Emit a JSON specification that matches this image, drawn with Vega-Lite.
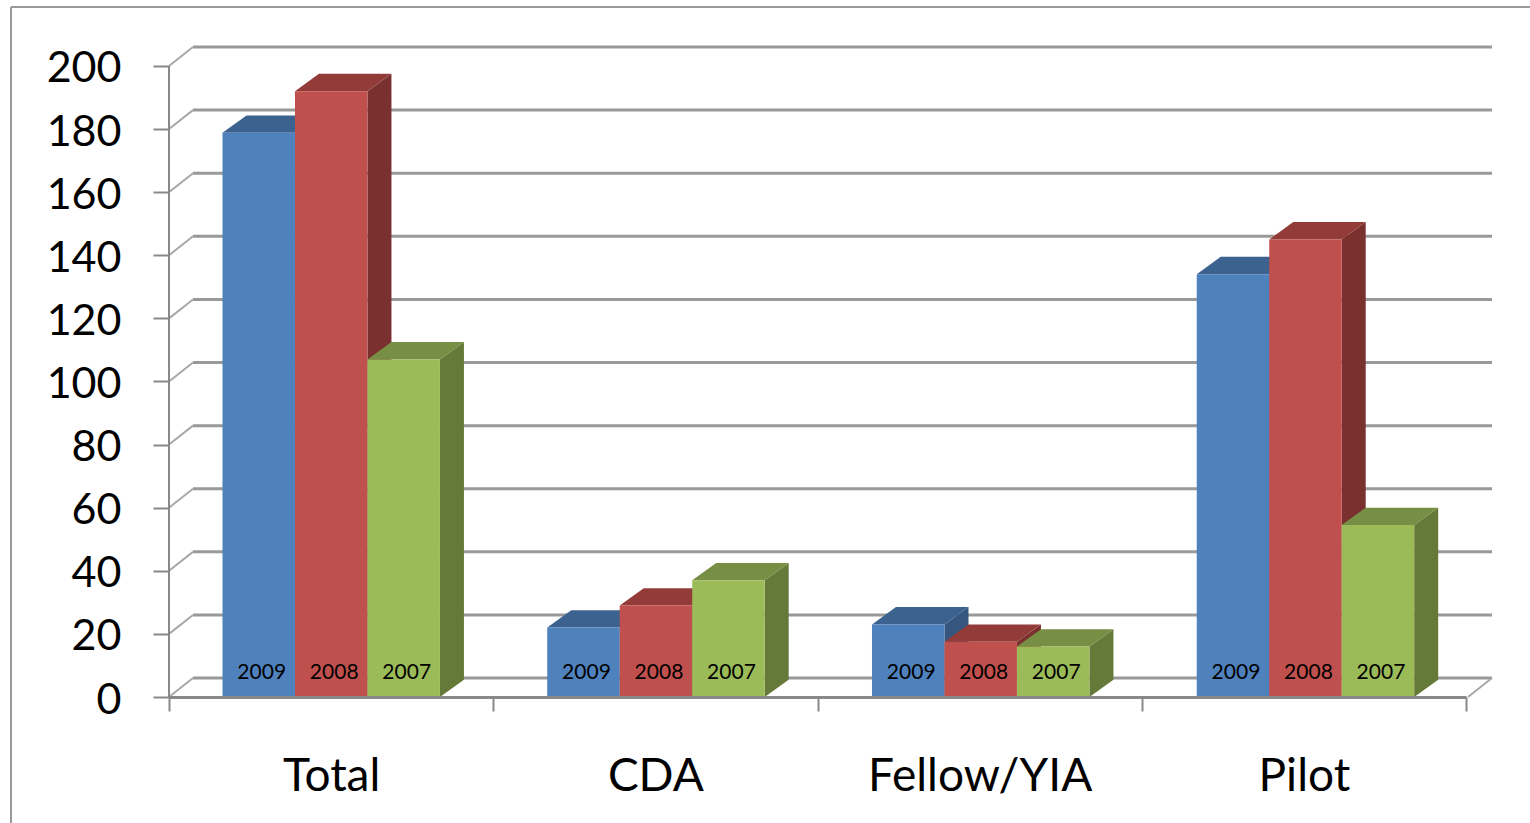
{
"$schema":"https://vega.github.io/schema/vega-lite/v6.json",
"width":1323,"height":650,
"autosize":{"type":"none"},
"padding":{"left":169,"top":47,"right":38,"bottom":126},
"background":"white",
"datasets":{
"bars":[
{"category":"Total","year":2009,"count":178.8},
{"category":"Total","year":2008,"count":192},
{"category":"Total","year":2007,"count":107},
{"category":"CDA","year":2009,"count":22},
{"category":"CDA","year":2008,"count":29},
{"category":"CDA","year":2007,"count":37},
{"category":"Fellow/YIA","year":2009,"count":23},
{"category":"Fellow/YIA","year":2008,"count":17.5},
{"category":"Fellow/YIA","year":2007,"count":16},
{"category":"Pilot","year":2009,"count":134},
{"category":"Pilot","year":2008,"count":145},
{"category":"Pilot","year":2007,"count":54.5}
],
"ticks":[{"tick":0},{"tick":20},{"tick":40},{"tick":60},{"tick":80},{"tick":100},{"tick":120},{"tick":140},{"tick":160},{"tick":180},{"tick":200}]
},
"data":{"name":"bars"},
"transform":[
{"calculate":"indexof(['Total','CDA','Fellow/YIA','Pilot'],datum.category)+0.1647+indexof([2009,2008,2007],datum.year)*0.2232","as":"left"},
{"calculate":"datum.left+0.2232","as":"right"},
{"calculate":"datum.category+datum.year","as":"id"}
],
"layer":[
{"data":{"values":[{"part":"frame"}]},"transform":[],"mark":{"type":"rule","stroke":"#9a9a9a","strokeWidth":2},
 "encoding":{"x":{"datum":-0.4865,"type":"quantitative","scale":{"domain":[0,4.0739]},"axis":null},
 "y":{"datum":218.7,"type":"quantitative","scale":{"domain":[0,206],"nice":false},
  "axis":{"title":null,"values":[0,20,40,60,80,100,120,140,160,180,200],"grid":false,"domain":false,"tickColor":"#888888","tickSize":16,"tickWidth":2,"labelFont":"Lato","labelFontSize":43,"labelColor":"black","labelPadding":32,"labelOffset":3,"labelOverlap":false,"labelBound":false,"labelFlush":false,"labelLimit":0}},
 "y2":{"datum":-40}}},
{"data":{"values":[{"part":"frame"}]},"transform":[],"mark":{"type":"rule","stroke":"#9a9a9a","strokeWidth":2},
 "encoding":{"x":{"datum":-0.4865,"type":"quantitative","scale":{"domain":[0,4.0739]},"axis":null},"x2":{"datum":4.2},"y":{"datum":218.7,"type":"quantitative","scale":{"domain":[0,206],"nice":false},"axis":null}}},
{"data":{"name":"ticks"},"transform":[{"calculate":"datum.tick+6","as":"back"},{"calculate":"0.0739","as":"wallX"},{"calculate":"4.0739","as":"wallEnd"}],
 "mark":{"type":"rule","stroke":"#999999","strokeWidth":3},
 "encoding":{"x":{"field":"wallX","type":"quantitative","scale":{"domain":[0,4.0739]},"axis":null},"x2":{"field":"wallEnd"},"y":{"field":"back","type":"quantitative","scale":{"domain":[0,206],"nice":false},"axis":null}}},
{"data":{"name":"ticks"},"transform":[{"calculate":"datum.tick+6","as":"back"},{"calculate":"0","as":"wallX"},{"calculate":"0.0739","as":"wallEnd"}],
 "mark":{"type":"rule","stroke":"#a8a8a8","strokeWidth":2},
 "encoding":{"x":{"field":"wallX","type":"quantitative","scale":{"domain":[0,4.0739]},"axis":null},"x2":{"field":"wallEnd"},
 "y":{"field":"tick","type":"quantitative","scale":{"domain":[0,206],"nice":false},"axis":null},
 "y2":{"field":"back"}}},
{"data":{"values":[{"from":4,"to":4.0739,"low":0,"high":6}]},"transform":[],"mark":{"type":"rule","stroke":"#a8a8a8","strokeWidth":2},
 "encoding":{"x":{"field":"from","type":"quantitative","scale":{"domain":[0,4.0739]},"axis":null},"x2":{"field":"to"},"y":{"field":"low","type":"quantitative","scale":{"domain":[0,206],"nice":false},"axis":null},"y2":{"field":"high"}}},
{"data":{"values":[{"from":0,"low":0,"high":200}]},"transform":[],"mark":{"type":"rule","stroke":"#888888","strokeWidth":2},
 "encoding":{"x":{"field":"from","type":"quantitative","scale":{"domain":[0,4.0739]},"axis":null},"y":{"field":"low","type":"quantitative","scale":{"domain":[0,206],"nice":false},"axis":null},"y2":{"field":"high"}}},
{"transform":[
 {"calculate":"datum.right","as":"near"},{"calculate":"datum.right+0.0739","as":"far"},
 {"fold":["near","far"],"as":["face","sx"]},
 {"calculate":"datum.face=='far'?5.5:0","as":"lift"},
 {"calculate":"datum.count+datum.lift","as":"sideTop"}],
 "mark":{"type":"area","orient":"vertical"},
 "encoding":{"x":{"field":"sx","type":"quantitative","scale":{"domain":[0,4.0739]},"axis":null},
 "y":{"field":"sideTop","type":"quantitative","stack":null,"scale":{"domain":[0,206],"nice":false},"axis":null},"y2":{"field":"lift"},
 "detail":{"field":"id"},
 "color":{"field":"year","type":"nominal","legend":null,"scale":{"domain":[2009,2008,2007],"range":["#34567f","#7a302e","#657a38"]}}}},
{"transform":[
 {"calculate":"datum.count","as":"low"},{"calculate":"datum.count+5.5","as":"high"},
 {"fold":["low","high"],"as":["edge","ty"]},
 {"calculate":"datum.edge=='high'?0.0739:0","as":"shift"},
 {"calculate":"datum.left+datum.shift","as":"x0"},
 {"calculate":"datum.right+datum.shift","as":"x1"}],
 "mark":{"type":"area","orient":"horizontal"},
 "encoding":{"y":{"field":"ty","type":"quantitative","stack":null,"scale":{"domain":[0,206],"nice":false},"axis":null},
 "x":{"field":"x0","type":"quantitative","stack":null,"scale":{"domain":[0,4.0739]},"axis":null},"x2":{"field":"x1"},
 "detail":{"field":"id"},
 "color":{"field":"year","type":"nominal","legend":null,"scale":{"domain":[2009,2008,2007],"range":["#3c6290","#933b38","#778f44"]}}}},
{"mark":{"type":"rect"},
 "encoding":{"x":{"field":"left","type":"quantitative","scale":{"domain":[0,4.0739]},"axis":null},"x2":{"field":"right"},
 "y":{"field":"count","type":"quantitative","stack":null,"scale":{"domain":[0,206],"nice":false},"axis":null},"y2":{"datum":0},
 "color":{"field":"year","type":"nominal","legend":null,"scale":{"domain":[2009,2008,2007],"range":["#4f81bd","#c0504d","#9bbb59"]}}}},
{"transform":[{"calculate":"(datum.left+datum.right)/2","as":"mid"}],
 "mark":{"type":"text","font":"Lato","fontSize":21,"color":"black","dx":3},
 "encoding":{"x":{"field":"mid","type":"quantitative","scale":{"domain":[0,4.0739]},"axis":null},
 "y":{"datum":7.5,"type":"quantitative","scale":{"domain":[0,206],"nice":false},"axis":null},
 "text":{"field":"year","type":"nominal"}}},
{"mark":{"type":"tick","opacity":0},
 "encoding":{"x":{"field":"category","type":"nominal","sort":["Total","CDA","Fellow/YIA","Pilot"],
  "scale":{"type":"band","range":[0,1297],"paddingInner":0,"paddingOuter":0},
  "axis":{"title":null,"labelAngle":0,"tickBand":"extent","domainColor":"#888888","domainWidth":3,"tickColor":"#888888","tickSize":14,"tickWidth":2,"labelFont":"Lato","labelFontSize":46,"labelColor":"black","labelPadding":43,"labelLimit":0,"zindex":1,"labelOverlap":false,"labelBound":false,"labelFlush":false}},
 "y":{"datum":0,"type":"quantitative","scale":{"domain":[0,206],"nice":false},"axis":null}}}
],
"resolve":{"scale":{"x":"independent","color":"independent"},"axis":{"x":"independent","y":"independent"}},
"config":{"view":{"stroke":null}}
}
